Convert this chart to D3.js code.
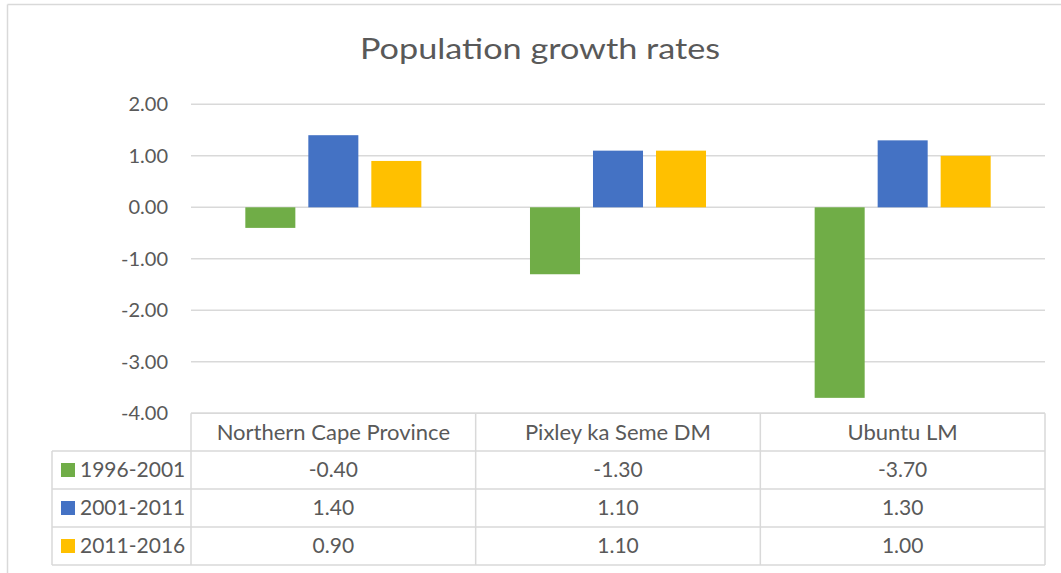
<!DOCTYPE html>
<html lang="en">
<head>
  <meta charset="UTF-8">
  <title>Population growth rates</title>
  <style>
    body, html { margin: 0; padding: 0; background: #fff; }
    #svg { display: block; }
  </style>
</head>
<body>
  <svg id="svg" width="1061" height="573"></svg>

  <script src="https://cdn.jsdelivr.net/npm/d3@7"></script>
  <script>
    // ----- DATA -----
    const categories = ['Northern Cape Province', 'Pixley ka Seme DM', 'Ubuntu LM']
    const seriesNames = ['1996-2001', '2001-2011', '2011-2016']
    const values1996 = [-0.40, -1.30, -3.70]
    const values2001 = [1.40, 1.10, 1.30]
    const values2011 = [0.90, 1.10, 1.00]
    const yTicks = [2, 1, 0, -1, -2, -3, -4]
    const colors = ['#70ad47', '#4472c4', '#ffc000']

    const series = [values1996, values2001, values2011]

    // ----- LAYOUT -----
    const plot = {left: 191, right: 1045, top: 104.3, bottom: 413.3}
    const tableLeft = 52
    const rowH = 38
    const headerTop = 413.3
    const headerBottom = 451
    const font = 'Lato, "Open Sans", sans-serif'
    const textColor = '#595959'
    const lineColor = '#d9d9d9'
    // Excel style numbers, plain hyphen for negatives
    const fmt = d => d.toFixed(2)

    const svg = d3.select('#svg')

    // chart area border (only left and top edges are in view)
    svg.append('line')
      .attr('x1', 7.5).attr('x2', 7.5)
      .attr('y1', 4.5).attr('y2', 573)
      .attr('stroke', lineColor).attr('stroke-width', 1.5)
    svg.append('line')
      .attr('x1', 7.5).attr('x2', 1061)
      .attr('y1', 4.5).attr('y2', 4.5)
      .attr('stroke', lineColor).attr('stroke-width', 1.5)

    // title (a bit wider than Lato, like the Calibri original)
    svg.append('text')
      .attr('transform', 'translate(540, 59) scale(1.18, 1)')
      .attr('text-anchor', 'middle')
      .style('font-family', font)
      .style('font-size', '29px')
      .style('fill', textColor)
      .text('Population growth rates')

    // ----- SCALES -----
    const xScale = d3.scaleBand()
      .domain(categories)
      .range([plot.left, plot.right])

    const innerWidth = 189
    const xInner = d3.scaleBand()
      .domain(seriesNames)
      .range([0, innerWidth])
      .paddingInner(0.206)
      .paddingOuter(0.103)

    const yScale = d3.scaleLinear()
      .domain([-4, 2])
      .range([plot.bottom, plot.top])

    // gridlines
    svg.append('g')
      .selectAll('line')
      .data(yTicks)
      .enter()
      .append('line')
      .attr('x1', plot.left)
      .attr('x2', plot.right)
      .attr('y1', d => yScale(d))
      .attr('y2', d => yScale(d))
      .attr('stroke', lineColor)
      .attr('stroke-width', 1.5)

    // y axis labels
    const leftAxis = d3.axisLeft(yScale)
      .tickValues(yTicks)
      .tickFormat(fmt)
      .tickSize(0)
      .tickPadding(23)

    const yAxisG = svg.append('g')
      .attr('transform', `translate(${plot.left}, 0)`)
      .call(leftAxis)
    yAxisG.select('.domain').remove()
    yAxisG.selectAll('text')
      .style('font-family', font)
      .style('font-size', '20px')
      .style('fill', textColor)

    // bars
    const offset = (xScale.bandwidth() - innerWidth) / 2
    series.forEach((vals, si) => {
      svg.append('g')
        .selectAll('rect')
        .data(vals)
        .enter()
        .append('rect')
        .attr('x', (d, i) => xScale(categories[i]) + offset + xInner(seriesNames[si]))
        .attr('y', d => yScale(Math.max(0, d)))
        .attr('width', xInner.bandwidth())
        .attr('height', d => Math.abs(yScale(d) - yScale(0)))
        .attr('fill', colors[si])
    })

    // ----- DATA TABLE -----
    const table = svg.append('g')
    const tableBottom = headerBottom + rowH * 3

    // horizontal lines
    table.append('line')
      .attr('x1', plot.left).attr('x2', plot.right)
      .attr('y1', headerTop).attr('y2', headerTop)
      .attr('stroke', lineColor).attr('stroke-width', 1.5)
    d3.range(4).forEach(r => {
      const y = headerBottom + r * rowH
      table.append('line')
        .attr('x1', tableLeft).attr('x2', plot.right)
        .attr('y1', y).attr('y2', y)
        .attr('stroke', lineColor).attr('stroke-width', 1.5)
    })

    // vertical lines
    table.append('line')
      .attr('x1', tableLeft).attr('x2', tableLeft)
      .attr('y1', headerBottom).attr('y2', tableBottom)
      .attr('stroke', lineColor).attr('stroke-width', 1.5)
    const colEdges = categories.map(c => xScale(c)).concat([plot.right])
    colEdges.forEach(x => {
      table.append('line')
        .attr('x1', x).attr('x2', x)
        .attr('y1', headerTop).attr('y2', tableBottom)
        .attr('stroke', lineColor).attr('stroke-width', 1.5)
    })

    // header text
    table.selectAll('.head')
      .data(categories)
      .enter()
      .append('text')
      .attr('x', d => xScale(d) + xScale.bandwidth() / 2)
      .attr('y', (headerTop + headerBottom) / 2)
      .attr('dy', '0.35em')
      .attr('text-anchor', 'middle')
      .style('font-family', font)
      .style('font-size', '22px')
      .style('fill', textColor)
      .text(d => d)

    // rows
    series.forEach((vals, si) => {
      const cy = headerBottom + si * rowH + rowH / 2
      table.append('rect')
        .attr('x', 61).attr('y', cy - 7)
        .attr('width', 14).attr('height', 14)
        .attr('fill', colors[si])
      table.append('text')
        .attr('x', 80)
        .attr('y', cy)
        .attr('dy', '0.35em')
        .style('font-family', font)
        .style('font-size', '21px')
        .style('fill', textColor)
        .text(seriesNames[si])
      table.selectAll('.v' + si)
        .data(vals)
        .enter()
        .append('text')
        .attr('x', (d, i) => xScale(categories[i]) + xScale.bandwidth() / 2)
        .attr('y', cy)
        .attr('dy', '0.35em')
        .attr('text-anchor', 'middle')
        .style('font-family', font)
        .style('font-size', '21px')
        .style('fill', textColor)
        .text(d => fmt(d))
    })
  </script>
</body>
</html>
